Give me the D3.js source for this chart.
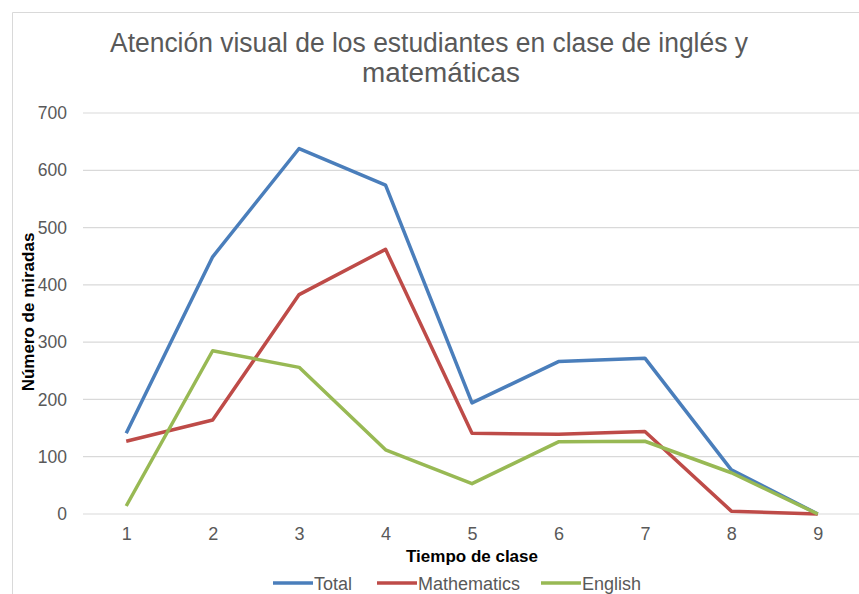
<!DOCTYPE html>
<html>
<head>
<meta charset="utf-8">
<script src="https://cdn.jsdelivr.net/npm/d3@7"></script>
<style>
  body { margin: 0; background: #fff; }
  text { font-family: "Liberation Sans", Arial, sans-serif; }
</style>
</head>
<body>
<svg id="chart" width="859" height="594"></svg>
<script>
const times = ["1", "2", "3", "4", "5", "6", "7", "8", "9"];
const total = [141, 449, 638, 574, 194, 266, 272, 77, 0];
const mathematics = [127, 164, 383, 462, 141, 139, 144, 5, 0];
const english = [14, 285, 256, 112, 53, 126, 127, 72, 0];
const yTicks = [0, 100, 200, 300, 400, 500, 600, 700];

const seriesNames = ["Total", "Mathematics", "English"];
const seriesValues = [total, mathematics, english];
const seriesColors = ["#4a7ebb", "#be4b48", "#98b954"];

const svg = d3.select("#chart");
const margin = { top: 113, right: -2, bottom: 80, left: 83 };
const width = +svg.attr("width");
const innerWidth = width - margin.left - margin.right;
const innerHeight = 514 - margin.top;

// chart frame (runs off the right and bottom of the picture)
svg.append("path")
  .attr("d", "M12.5,594 V12.5 H859")
  .attr("fill", "none")
  .attr("stroke", "#d9d9d9");

const g = svg.append("g")
  .attr("transform", `translate(${margin.left}, ${margin.top})`);

const x = d3.scalePoint()
  .domain(times)
  .range([0, innerWidth])
  .padding(0.5);

const y = d3.scaleLinear()
  .domain([0, 700])
  .range([innerHeight, 0]);

// gridlines
g.append("g")
  .selectAll("line")
  .data(yTicks)
  .enter()
  .append("line")
  .attr("x1", 0)
  .attr("x2", innerWidth)
  .attr("y1", d => y(d))
  .attr("y2", d => y(d))
  .attr("stroke", "#d9d9d9")
  .attr("stroke-width", 1.2);

const yAxis = g.append("g")
  .call(d3.axisLeft(y).tickValues(yTicks).tickSize(0).tickPadding(16));
yAxis.select(".domain").remove();
yAxis.selectAll("text")
  .attr("fill", "#595959")
  .attr("font-size", "17.5px")
  .attr("font-family", "Liberation Sans, Arial, sans-serif");

const xAxis = g.append("g")
  .attr("transform", `translate(0, ${innerHeight})`)
  .call(d3.axisBottom(x).tickSize(0).tickPadding(13));
xAxis.select(".domain").remove();
xAxis.selectAll("text")
  .attr("fill", "#595959")
  .attr("font-size", "18px")
  .attr("font-family", "Liberation Sans, Arial, sans-serif");

const line = d3.line()
  .x((d, i) => x(times[i]))
  .y(d => y(d));

seriesValues.forEach((vals, i) => {
  g.append("path")
    .datum(vals)
    .attr("fill", "none")
    .attr("stroke", seriesColors[i])
    .attr("stroke-width", 3.5)
    .attr("stroke-linejoin", "round")
    .attr("d", line);
});

// title
const title = svg.append("text")
  .attr("text-anchor", "middle")
  .attr("fill", "#595959")
  .attr("font-size", "27px");
title.append("tspan").attr("x", 429).attr("y", 52)
  .attr("textLength", 638)
  .attr("lengthAdjust", "spacingAndGlyphs")
  .text("Atención visual de los estudiantes en clase de inglés y");
title.append("tspan").attr("x", 441).attr("y", 82)
  .attr("textLength", 158)
  .attr("lengthAdjust", "spacingAndGlyphs")
  .text("matemáticas");

// axis titles
svg.append("text")
  .attr("x", 472)
  .attr("y", 562)
  .attr("text-anchor", "middle")
  .attr("font-weight", "bold")
  .attr("font-size", "17px")
  .attr("fill", "#000")
  .text("Tiempo de clase");

svg.append("text")
  .attr("transform", "rotate(-90)")
  .attr("x", -312)
  .attr("y", 34)
  .attr("text-anchor", "middle")
  .attr("font-weight", "bold")
  .attr("font-size", "17px")
  .attr("fill", "#000")
  .text("Número de miradas");

// legend
const legendX = [273, 377, 541];
const legend = svg.append("g").attr("transform", "translate(0, 583)");
seriesNames.forEach((name, i) => {
  legend.append("line")
    .attr("x1", legendX[i])
    .attr("x2", legendX[i] + 40)
    .attr("y1", 0)
    .attr("y2", 0)
    .attr("stroke", seriesColors[i])
    .attr("stroke-width", 3.5);
  legend.append("text")
    .attr("x", legendX[i] + 41)
    .attr("y", 7)
    .attr("fill", "#595959")
    .attr("font-size", "18px")
    .text(name);
});
</script>
</body>
</html>
